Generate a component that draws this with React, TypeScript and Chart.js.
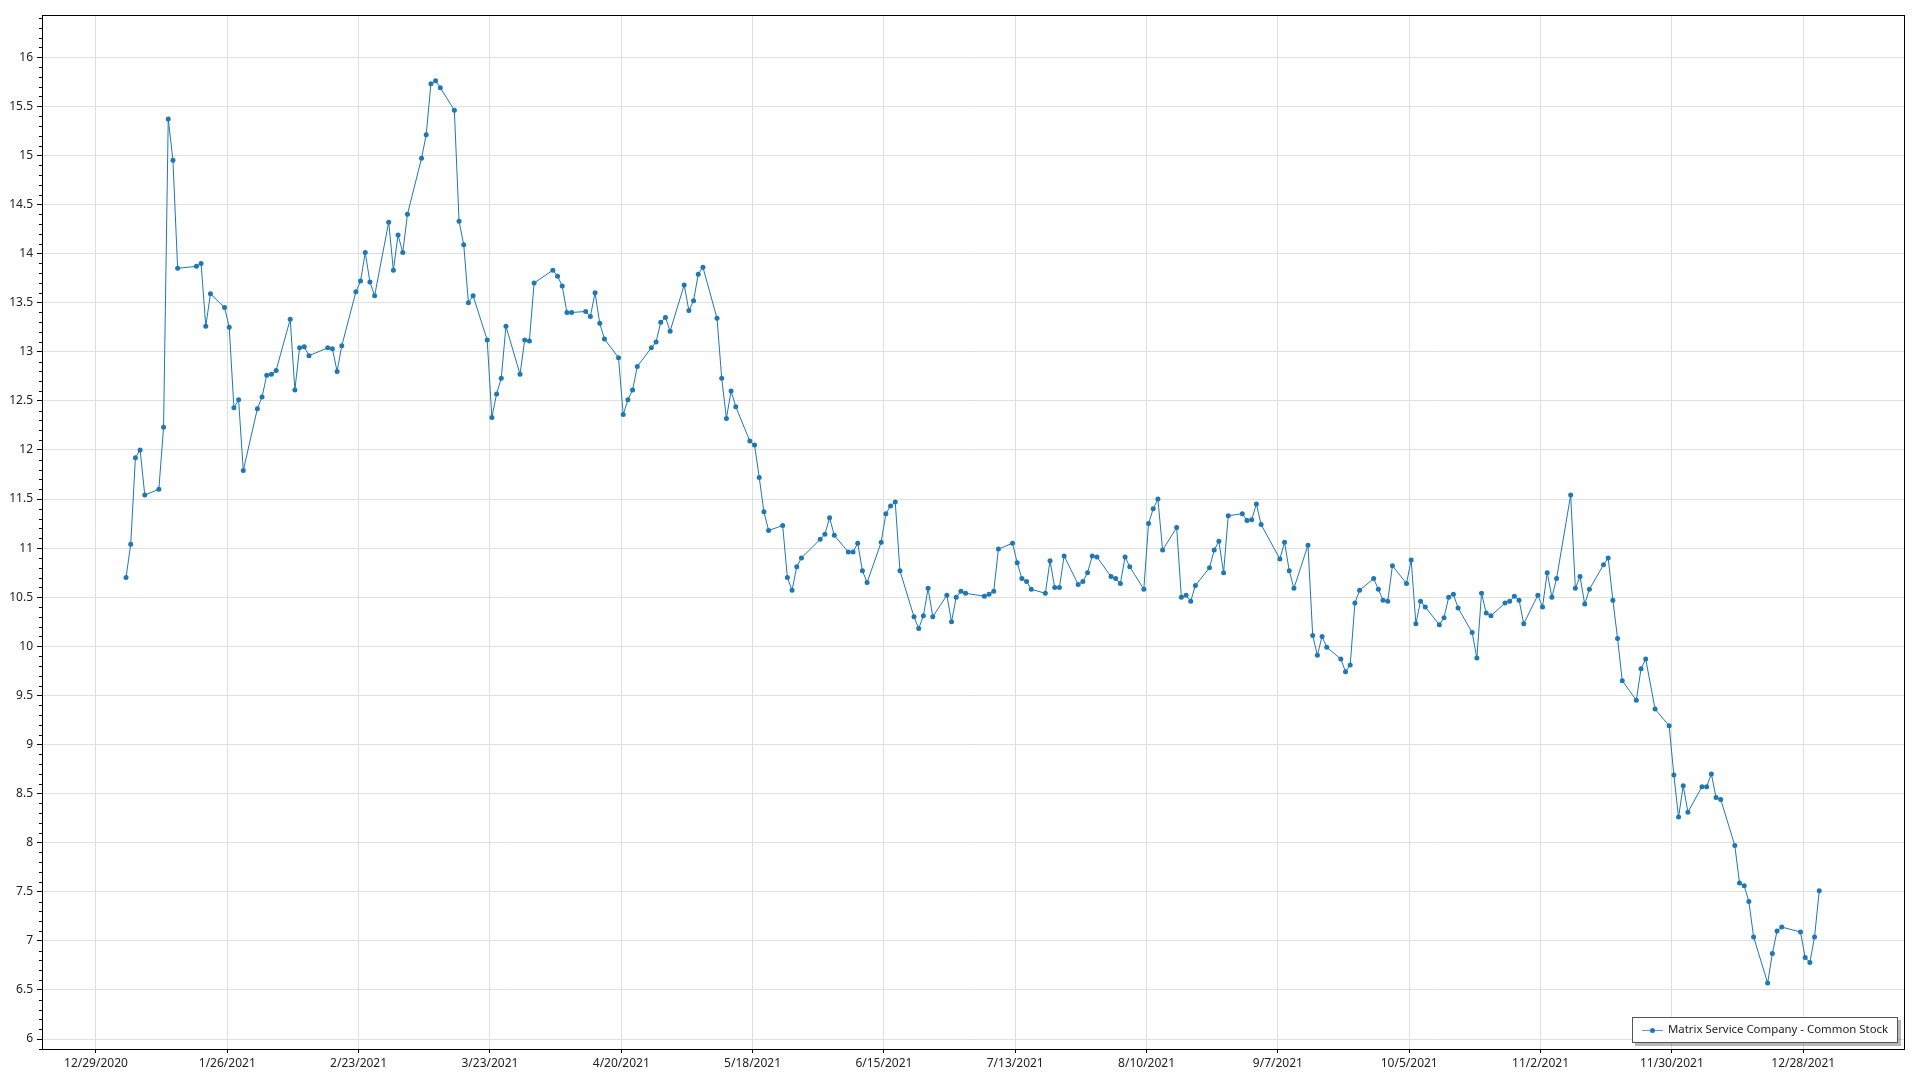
import React, { useEffect, useRef } from "react";
import { Chart, registerables } from "chart.js";

Chart.register(...registerables);

const seriesName = "Matrix Service Company - Common Stock";

const tradeDates: string[] = [
  "2021-01-04","2021-01-05","2021-01-06","2021-01-07","2021-01-08","2021-01-11","2021-01-12","2021-01-13","2021-01-14","2021-01-15",
  "2021-01-19","2021-01-20","2021-01-21","2021-01-22","2021-01-25","2021-01-26","2021-01-27","2021-01-28","2021-01-29",
  "2021-02-01","2021-02-02","2021-02-03","2021-02-04","2021-02-05","2021-02-08","2021-02-09","2021-02-10","2021-02-11","2021-02-12",
  "2021-02-16","2021-02-17","2021-02-18","2021-02-19","2021-02-22","2021-02-23","2021-02-24","2021-02-25","2021-02-26",
  "2021-03-01","2021-03-02","2021-03-03","2021-03-04","2021-03-05","2021-03-08","2021-03-09","2021-03-10","2021-03-11","2021-03-12",
  "2021-03-15","2021-03-16","2021-03-17","2021-03-18","2021-03-19","2021-03-22","2021-03-23","2021-03-24","2021-03-25","2021-03-26",
  "2021-03-29","2021-03-30","2021-03-31",
  "2021-04-01","2021-04-05","2021-04-06","2021-04-07","2021-04-08","2021-04-09","2021-04-12","2021-04-13","2021-04-14","2021-04-15",
  "2021-04-16","2021-04-19","2021-04-20","2021-04-21","2021-04-22","2021-04-23","2021-04-26","2021-04-27","2021-04-28","2021-04-29","2021-04-30",
  "2021-05-03","2021-05-04","2021-05-05","2021-05-06","2021-05-07","2021-05-10","2021-05-11","2021-05-12","2021-05-13","2021-05-14",
  "2021-05-17","2021-05-18","2021-05-19","2021-05-20","2021-05-21","2021-05-24","2021-05-25","2021-05-26","2021-05-27","2021-05-28",
  "2021-06-01","2021-06-02","2021-06-03","2021-06-04","2021-06-07","2021-06-08","2021-06-09","2021-06-10","2021-06-11",
  "2021-06-14","2021-06-15","2021-06-16","2021-06-17","2021-06-18","2021-06-21","2021-06-22","2021-06-23","2021-06-24","2021-06-25",
  "2021-06-28","2021-06-29","2021-06-30",
  "2021-07-01","2021-07-02","2021-07-06","2021-07-07","2021-07-08","2021-07-09","2021-07-12","2021-07-13","2021-07-14","2021-07-15","2021-07-16",
  "2021-07-19","2021-07-20","2021-07-21","2021-07-22","2021-07-23","2021-07-26","2021-07-27","2021-07-28","2021-07-29","2021-07-30",
  "2021-08-02","2021-08-03","2021-08-04","2021-08-05","2021-08-06","2021-08-09","2021-08-10","2021-08-11","2021-08-12","2021-08-13",
  "2021-08-16","2021-08-17","2021-08-18","2021-08-19","2021-08-20","2021-08-23","2021-08-24","2021-08-25","2021-08-26","2021-08-27",
  "2021-08-30","2021-08-31",
  "2021-09-01","2021-09-02","2021-09-03","2021-09-07","2021-09-08","2021-09-09","2021-09-10","2021-09-13","2021-09-14","2021-09-15",
  "2021-09-16","2021-09-17","2021-09-20","2021-09-21","2021-09-22","2021-09-23","2021-09-24","2021-09-27","2021-09-28","2021-09-29","2021-09-30",
  "2021-10-01","2021-10-04","2021-10-05","2021-10-06","2021-10-07","2021-10-08","2021-10-11","2021-10-12","2021-10-13","2021-10-14","2021-10-15",
  "2021-10-18","2021-10-19","2021-10-20","2021-10-21","2021-10-22","2021-10-25","2021-10-26","2021-10-27","2021-10-28","2021-10-29",
  "2021-11-01","2021-11-02","2021-11-03","2021-11-04","2021-11-05","2021-11-08","2021-11-09","2021-11-10","2021-11-11","2021-11-12",
  "2021-11-15","2021-11-16","2021-11-17","2021-11-18","2021-11-19","2021-11-22","2021-11-23","2021-11-24","2021-11-26","2021-11-29","2021-11-30",
  "2021-12-01","2021-12-02","2021-12-03","2021-12-06","2021-12-07","2021-12-08","2021-12-09","2021-12-10","2021-12-13","2021-12-14",
  "2021-12-15","2021-12-16","2021-12-17","2021-12-20","2021-12-21","2021-12-22","2021-12-23","2021-12-27","2021-12-28","2021-12-29",
  "2021-12-30","2021-12-31",
];

const closePrices: number[] = [
  10.70,11.04,11.92,12.00,11.54,11.60,12.23,15.37,14.95,13.85,
  13.87,13.90,13.26,13.59,13.45,13.25,12.43,12.51,11.79,
  12.42,12.54,12.76,12.77,12.81,13.33,12.61,13.04,13.05,12.96,
  13.04,13.03,12.80,13.06,13.61,13.72,14.01,13.71,13.57,
  14.32,13.83,14.19,14.01,14.40,14.97,15.21,15.73,15.76,15.69,
  15.46,14.33,14.09,13.50,13.57,13.12,12.33,12.57,12.73,13.26,
  12.77,13.12,13.11,
  13.70,13.83,13.77,13.67,13.40,13.40,13.41,13.36,13.60,13.29,
  13.13,12.94,12.36,12.51,12.61,12.85,13.04,13.10,13.30,13.35,13.21,
  13.68,13.42,13.52,13.79,13.86,13.34,12.73,12.32,12.60,12.44,
  12.09,12.05,11.72,11.37,11.18,11.23,10.70,10.57,10.81,10.90,
  11.09,11.14,11.31,11.13,10.96,10.96,11.05,10.77,10.65,
  11.06,11.35,11.43,11.47,10.77,10.30,10.18,10.31,10.59,10.30,
  10.52,10.25,10.50,
  10.56,10.54,10.51,10.53,10.56,10.99,11.05,10.85,10.69,10.66,10.58,
  10.54,10.87,10.60,10.60,10.92,10.63,10.66,10.75,10.92,10.91,
  10.71,10.69,10.64,10.91,10.81,10.58,11.25,11.40,11.50,10.98,
  11.21,10.50,10.52,10.46,10.62,10.80,10.98,11.07,10.75,11.33,
  11.35,11.28,
  11.29,11.45,11.24,10.89,11.06,10.77,10.59,11.03,10.11,9.91,
  10.10,9.99,9.87,9.74,9.81,10.44,10.57,10.69,10.58,10.47,10.46,
  10.82,10.64,10.88,10.23,10.46,10.40,10.22,10.29,10.50,10.53,10.39,
  10.14,9.88,10.54,10.34,10.31,10.44,10.46,10.51,10.47,10.23,
  10.52,10.40,10.75,10.50,10.69,11.54,10.59,10.71,10.43,10.58,
  10.83,10.90,10.47,10.08,9.65,9.45,9.77,9.87,9.36,9.19,8.69,
  8.26,8.58,8.31,8.57,8.57,8.70,8.46,8.44,7.97,7.59,
  7.56,7.40,7.04,6.57,6.87,7.10,7.14,7.09,6.83,6.78,
  7.04,7.51,
];

const xTickLabels: string[] = [
  "12/29/2020","1/26/2021","2/23/2021","3/23/2021","4/20/2021","5/18/2021","6/15/2021",
  "7/13/2021","8/10/2021","9/7/2021","10/5/2021","11/2/2021","11/30/2021","12/28/2021",
];

const yTickValues: number[] = [6,6.5,7,7.5,8,8.5,9,9.5,10,10.5,11,11.5,12,12.5,13,13.5,14,14.5,15,15.5,16];

// quotes are time-stamped during the trading day (hours after midnight)
const QUOTE_HOUR = 10;

const DAY_MS = 86400000;
const ORIGIN = Date.UTC(2020, 11, 29);
const isoToDay = (iso: string) => {
  const [y, m, d] = iso.split("-").map(Number);
  return (Date.UTC(y, m - 1, d, QUOTE_HOUR) - ORIGIN) / DAY_MS;
};
const labelToDay = (lbl: string) => {
  const [m, d, y] = lbl.split("/").map(Number);
  return (Date.UTC(y, m - 1, d) - ORIGIN) / DAY_MS;
};

const LINE_COLOR = "#1f77b4";
const FONT = "'Noto Sans', 'Open Sans', sans-serif";

const framePlugin = {
  id: "frameAndLegend",
  afterDraw(chart: any) {
    const { ctx, chartArea } = chart;
    const ys = chart.scales.y;
    ctx.save();
    ctx.strokeStyle = "#000";
    ctx.lineWidth = 1;
    for (let k = 59; k <= 164; k++) {
      if (k % 5 === 0) continue;
      const py = Math.round(ys.getPixelForValue(k / 10)) + 0.5;
      ctx.beginPath();
      ctx.moveTo(chartArea.left - 3, py);
      ctx.lineTo(chartArea.left, py);
      ctx.stroke();
    }
    ctx.strokeStyle = "#000";
    ctx.strokeRect(
      Math.round(chartArea.left) + 0.5,
      Math.round(chartArea.top) + 0.5,
      Math.round(chartArea.right - chartArea.left) - 1,
      Math.round(chartArea.bottom - chartArea.top) - 1
    );
    ctx.font = `11.4px ${FONT}`;
    const tw = ctx.measureText(seriesName).width;
    const bw = Math.round(36 + tw + 10);
    const bh = 26;
    const bx = Math.round(chartArea.right - 7 - bw);
    const by = Math.round(chartArea.bottom - 7 - bh);
    ctx.fillStyle = "rgba(0,0,0,0.28)";
    ctx.fillRect(bx + 3, by + 3, bw, bh);
    ctx.fillStyle = "#fff";
    ctx.fillRect(bx, by, bw, bh);
    ctx.strokeStyle = "#555";
    ctx.strokeRect(bx + 0.5, by + 0.5, bw - 1, bh - 1);
    const cy = by + bh / 2;
    ctx.strokeStyle = "#5b9bd0";
    ctx.lineWidth = 1;
    ctx.beginPath();
    ctx.moveTo(bx + 10, cy + 0.5);
    ctx.lineTo(bx + 31, cy + 0.5);
    ctx.stroke();
    ctx.fillStyle = LINE_COLOR;
    ctx.beginPath();
    ctx.arc(bx + 20.5, cy + 0.5, 2.5, 0, Math.PI * 2);
    ctx.fill();
    ctx.fillStyle = "#222";
    ctx.textBaseline = "middle";
    ctx.textAlign = "left";
    ctx.fillText(seriesName, bx + 36, cy);
    ctx.restore();
  },
};

export default function App() {
  const canvasRef = useRef<HTMLCanvasElement | null>(null);

  useEffect(() => {
    if (!canvasRef.current) return;
    const points = tradeDates.map((d, i) => ({ x: isoToDay(d), y: closePrices[i] }));
    const chart = new Chart(canvasRef.current, {
      type: "line",
      data: {
        datasets: [
          {
            label: seriesName,
            data: points,
            borderColor: LINE_COLOR,
            backgroundColor: LINE_COLOR,
            borderWidth: 1,
            pointRadius: 2.5,
            pointBorderWidth: 0,
            pointBackgroundColor: LINE_COLOR,
            tension: 0,
          },
        ],
      },
      options: {
        responsive: false,
        animation: false,
        layout: { padding: { top: 15, right: 15, left: 0, bottom: 0 } },
        plugins: { legend: { display: false }, tooltip: { enabled: false } },
        scales: {
          x: {
            type: "linear",
            min: -11.5,
            max: 385.7,
            border: { display: false },
            grid: { color: "#e0e0e0", tickColor: "#000", tickLength: 3 },
            ticks: {
              autoSkip: false,
              maxRotation: 0,
              padding: 3,
              color: "#222",
              font: { family: FONT, size: 12 },
              callback: (_v: any, i: number) => xTickLabels[i],
            },
            afterBuildTicks: (scale: any) => {
              scale.ticks = xTickLabels.map((l) => ({ value: labelToDay(l) }));
            },
            afterFit: (scale: any) => {
              scale.height = 30;
            },
          },
          y: {
            type: "linear",
            min: 5.888,
            max: 16.43,
            border: { display: false },
            grid: { color: "#e0e0e0", tickColor: "#000", tickLength: 5 },
            ticks: {
              padding: 4,
              color: "#222",
              font: { family: FONT, size: 12 },
              callback: (v: any) => String(v),
            },
            afterBuildTicks: (scale: any) => {
              scale.ticks = yTickValues.map((v) => ({ value: v }));
            },
            afterFit: (scale: any) => {
              scale.width = 42;
            },
          },
        },
      },
      plugins: [framePlugin],
    });
    return () => chart.destroy();
  }, []);

  return (
    <div style={{ position: "fixed", left: 0, top: 0, width: 1920, height: 1080, background: "#fff" }}>
      <canvas ref={canvasRef} width={1920} height={1080} style={{ display: "block" }} />
    </div>
  );
}
